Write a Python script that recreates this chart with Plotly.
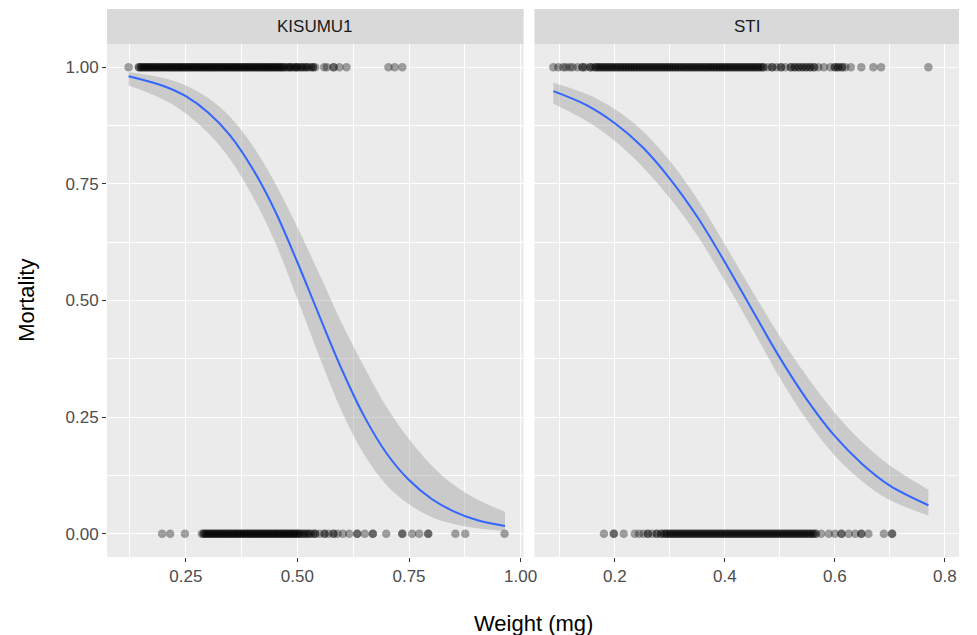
import numpy as np
import plotly.graph_objects as go

# ---- Raw observations: weight (mg) of each mosquito, split by strain and outcome ----
# Isolated weights with the number of mosquitoes recorded at each one
kis_dead_w = [0.122, 0.460, 0.465, 0.470, 0.475, 0.480, 0.485, 0.490, 0.495, 0.500, 0.505,
              0.510, 0.515, 0.520, 0.525, 0.530, 0.535, 0.540,
              0.560, 0.566, 0.581, 0.594, 0.610, 0.704, 0.718, 0.735]
kis_dead_n = [1, 2, 2, 2, 1, 2, 2, 1, 2, 2, 1,
              2, 1, 2, 1, 1, 2, 1,
              1, 1, 2, 1, 1, 1, 1, 1]
kis_alive_w = [0.197, 0.215, 0.248, 0.286, 0.505, 0.510, 0.515, 0.520, 0.525, 0.530, 0.535,
               0.540, 0.550, 0.561, 0.570, 0.581, 0.590, 0.602, 0.616, 0.634, 0.651, 0.669,
               0.699, 0.735, 0.757, 0.773, 0.793, 0.854, 0.876, 0.964]
kis_alive_n = [1, 1, 1, 1, 2, 1, 2, 1, 2, 1, 1,
               2, 1, 2, 1, 2, 1, 1, 1, 2, 1, 2,
               1, 2, 1, 1, 2, 1, 1, 1]
sti_dead_w = [0.088, 0.097, 0.106, 0.111, 0.118, 0.123, 0.132, 0.141, 0.146, 0.155, 0.160,
              0.165, 0.470, 0.478, 0.486, 0.494, 0.502, 0.510, 0.520, 0.527, 0.534, 0.541,
              0.548, 0.555, 0.562, 0.570, 0.580, 0.592, 0.600, 0.606, 0.613, 0.619,
              0.629, 0.648, 0.670, 0.684, 0.770]
sti_dead_n = [1, 1, 1, 1, 1, 1, 1, 2, 1, 2, 1,
              2, 2, 1, 2, 1, 2, 1, 2, 2, 2, 2,
              2, 2, 2, 1, 1, 1, 2, 2, 2, 1,
              1, 1, 1, 1, 1]
sti_alive_w = [0.180, 0.198, 0.216, 0.236, 0.244, 0.252, 0.260, 0.268, 0.276, 0.284, 0.290,
               0.575, 0.589, 0.600, 0.612, 0.625, 0.637, 0.648, 0.661, 0.689, 0.704]
sti_alive_n = [1, 2, 1, 1, 1, 1, 2, 1, 2, 2, 2,
               1, 1, 1, 2, 1, 1, 2, 1, 1, 2]

# Crowded weight bands: every weight listed here was recorded for BAND_COUNT mosquitoes
BAND_COUNT = 2
kis_dead_band = [0.145, 0.150, 0.155, 0.160, 0.165, 0.170, 0.175, 0.180, 0.185, 0.190, 0.195,
                 0.200, 0.205, 0.210, 0.215, 0.220, 0.225, 0.230, 0.235, 0.240, 0.245, 0.250,
                 0.255, 0.260, 0.265, 0.270, 0.275, 0.280, 0.285, 0.290, 0.295, 0.300, 0.305,
                 0.310, 0.315, 0.320, 0.325, 0.330, 0.335, 0.340, 0.345, 0.350, 0.355, 0.360,
                 0.365, 0.370, 0.375, 0.380, 0.385, 0.390, 0.395, 0.400, 0.405, 0.410, 0.415,
                 0.420, 0.425, 0.430, 0.435, 0.440, 0.445, 0.450, 0.455]
kis_alive_band = [0.290, 0.295, 0.300, 0.305, 0.310, 0.315, 0.320, 0.325, 0.330, 0.335, 0.340,
                  0.345, 0.350, 0.355, 0.360, 0.365, 0.370, 0.375, 0.380, 0.385, 0.390, 0.395,
                  0.400, 0.405, 0.410, 0.415, 0.420, 0.425, 0.430, 0.435, 0.440, 0.445, 0.450,
                  0.455, 0.460, 0.465, 0.470, 0.475, 0.480, 0.485, 0.490, 0.495, 0.500]
sti_dead_band = [0.170, 0.175, 0.180, 0.185, 0.190, 0.195, 0.200, 0.205, 0.210, 0.215, 0.220,
                 0.225, 0.230, 0.235, 0.240, 0.245, 0.250, 0.255, 0.260, 0.265, 0.270, 0.275,
                 0.280, 0.285, 0.290, 0.295, 0.300, 0.305, 0.310, 0.315, 0.320, 0.325, 0.330,
                 0.335, 0.340, 0.345, 0.350, 0.355, 0.360, 0.365, 0.370, 0.375, 0.380, 0.385,
                 0.390, 0.395, 0.400, 0.405, 0.410, 0.415, 0.420, 0.425, 0.430, 0.435, 0.440,
                 0.445, 0.450, 0.455, 0.460, 0.465]
sti_alive_band = [0.295, 0.300, 0.305, 0.310, 0.315, 0.320, 0.325, 0.330, 0.335, 0.340, 0.345,
                  0.350, 0.355, 0.360, 0.365, 0.370, 0.375, 0.380, 0.385, 0.390, 0.395, 0.400,
                  0.405, 0.410, 0.415, 0.420, 0.425, 0.430, 0.435, 0.440, 0.445, 0.450, 0.455,
                  0.460, 0.465, 0.470, 0.475, 0.480, 0.485, 0.490, 0.495, 0.500, 0.505, 0.510,
                  0.515, 0.520, 0.525, 0.530, 0.535, 0.540, 0.545, 0.550, 0.555, 0.560, 0.565]

# ---- Fitted logistic curve with 95% band (weight, fit, lower, upper) ----
kis_fit_x = [0.122, 0.20, 0.25, 0.30, 0.35, 0.40, 0.45, 0.50, 0.55, 0.60, 0.65, 0.70, 0.75,
             0.80, 0.85, 0.90, 0.965]
kis_fit_y = [0.981, 0.960, 0.938, 0.903, 0.853, 0.782, 0.692, 0.582, 0.465, 0.351, 0.251,
             0.172, 0.115, 0.075, 0.048, 0.030, 0.0165]
kis_fit_lo = [0.961, 0.931, 0.901, 0.859, 0.802, 0.723, 0.625, 0.503, 0.378, 0.261, 0.169,
              0.104, 0.063, 0.036, 0.021, 0.012, 0.0057]
kis_fit_hi = [0.990, 0.977, 0.961, 0.934, 0.893, 0.832, 0.752, 0.657, 0.555, 0.450, 0.357,
              0.271, 0.203, 0.147, 0.105, 0.075, 0.047]

sti_fit_x = [0.088, 0.15, 0.20, 0.25, 0.30, 0.35, 0.40, 0.45, 0.50, 0.55, 0.60, 0.65, 0.70, 0.77]
sti_fit_y = [0.949, 0.918, 0.880, 0.829, 0.761, 0.679, 0.582, 0.479, 0.377, 0.286, 0.209,
             0.149, 0.103, 0.061]
sti_fit_lo = [0.922, 0.884, 0.842, 0.787, 0.719, 0.639, 0.542, 0.439, 0.334, 0.242, 0.167,
              0.112, 0.072, 0.039]
sti_fit_hi = [0.967, 0.942, 0.910, 0.864, 0.799, 0.717, 0.620, 0.520, 0.423, 0.336, 0.259,
              0.196, 0.146, 0.094]

strain_names = ["KISUMU1", "STI"]
y_ticks = [0.0, 0.25, 0.5, 0.75, 1.0]
y_tick_text = ["0.00", "0.25", "0.50", "0.75", "1.00"]
kis_x_ticks = [0.25, 0.5, 0.75, 1.0]
kis_x_text = ["0.25", "0.50", "0.75", "1.00"]
sti_x_ticks = [0.2, 0.4, 0.6, 0.8]
sti_x_text = ["0.2", "0.4", "0.6", "0.8"]

FONT = "Liberation Sans, Arial, sans-serif"
PANEL_BG = "#EBEBEB"
STRIP_BG = "#D9D9D9"

fig = go.Figure()


def weights(sparse_w, sparse_n, band):
    return np.concatenate([np.repeat(sparse_w, sparse_n), np.repeat(band, BAND_COUNT)])


def add_panel(xa, ya, dead, alive, fx, fy, flo, fhi):
    xs = np.concatenate([dead, alive])
    ys = np.concatenate([np.ones(len(dead)), np.zeros(len(alive))])
    fig.add_trace(go.Scatter(
        x=xs, y=ys, mode="markers", xaxis=xa, yaxis=ya, hoverinfo="skip",
        marker=dict(color="black", opacity=0.35, size=8.5, line=dict(width=0)),
        showlegend=False))
    fig.add_trace(go.Scatter(
        x=fx, y=flo, mode="lines", xaxis=xa, yaxis=ya, line=dict(width=0, shape="spline"),
        hoverinfo="skip", showlegend=False))
    fig.add_trace(go.Scatter(
        x=fx, y=fhi, mode="lines", xaxis=xa, yaxis=ya, line=dict(width=0, shape="spline"),
        fill="tonexty", fillcolor="rgba(153,153,153,0.4)", hoverinfo="skip", showlegend=False))
    fig.add_trace(go.Scatter(
        x=fx, y=fy, mode="lines", xaxis=xa, yaxis=ya,
        line=dict(color="#3366FF", width=2, shape="spline"), showlegend=False))


add_panel("x", "y",
          weights(kis_dead_w, kis_dead_n, kis_dead_band),
          weights(kis_alive_w, kis_alive_n, kis_alive_band),
          kis_fit_x, kis_fit_y, kis_fit_lo, kis_fit_hi)
add_panel("x2", "y2",
          weights(sti_dead_w, sti_dead_n, sti_dead_band),
          weights(sti_alive_w, sti_alive_n, sti_alive_band),
          sti_fit_x, sti_fit_y, sti_fit_lo, sti_fit_hi)

W, H = 977, 635
ML, MR, MT, MB = 107, 5, 44, 78
plot_w = W - ML - MR
plot_h = H - MT - MB
gap = 11
left_w = 423
d1 = [0, left_w / plot_w]
d2 = [(left_w + gap) / plot_w, 1]

tick_common = dict(ticks="outside", ticklen=4, tickwidth=1, tickcolor="#333333",
                   tickfont=dict(family=FONT, size=17, color="#4D4D4D"),
                   showgrid=True, gridcolor="white", gridwidth=1.1,
                   zeroline=False, showline=False)
minor_x1 = dict(tickvals=[0.125, 0.375, 0.625, 0.875], showgrid=True, gridcolor="white",
                gridwidth=0.5, ticks="")
minor_x2 = dict(tickvals=[0.1, 0.3, 0.5, 0.7], showgrid=True, gridcolor="white",
                gridwidth=0.5, ticks="")
minor_y = dict(tickvals=[0.125, 0.375, 0.625, 0.875], showgrid=True, gridcolor="white",
               gridwidth=0.5, ticks="")

fig.update_layout(
    width=W, height=H,
    margin=dict(l=ML, r=MR, t=MT, b=MB, pad=0),
    paper_bgcolor="white", plot_bgcolor=PANEL_BG,
    font=dict(family=FONT),
    xaxis=dict(domain=d1, range=[0.0735, 1.0068], tickvals=kis_x_ticks, ticktext=kis_x_text,
               minor=minor_x1, anchor="y", **tick_common),
    xaxis2=dict(domain=d2, range=[0.0537, 0.8257], tickvals=sti_x_ticks, ticktext=sti_x_text,
                minor=minor_x2, anchor="y2", **tick_common),
    yaxis=dict(domain=[0, 1], range=[-0.05, 1.05], tickvals=y_ticks, ticktext=y_tick_text,
               minor=minor_y, anchor="x", **tick_common),
    yaxis2=dict(domain=[0, 1], range=[-0.05, 1.05], tickvals=y_ticks, ticktext=y_tick_text,
                minor=minor_y, anchor="x2", matches="y",
                showticklabels=False, ticks="", showgrid=True, gridcolor="white",
                gridwidth=1.1, zeroline=False, showline=False),
)

# Facet strips across the top of each panel
strip_h = 35 / plot_h
for xref, name in [("x domain", strain_names[0]), ("x2 domain", strain_names[1])]:
    fig.add_shape(type="rect", xref=xref, yref="paper", x0=0, x1=1, y0=1, y1=1 + strip_h,
                  fillcolor=STRIP_BG, line=dict(width=0), layer="below")
    fig.add_annotation(xref=xref, yref="paper", x=0.5, y=1 + strip_h / 2, text=name,
                       showarrow=False, xanchor="center", yanchor="middle",
                       font=dict(family=FONT, size=17, color="#1A1A1A"))

# Axis titles
fig.add_annotation(xref="paper", yref="paper", x=0.5, y=-(623 - (H - MB)) / plot_h,
                   text="Weight (mg)", showarrow=False, xanchor="center", yanchor="middle",
                   font=dict(family=FONT, size=22, color="black"))
fig.add_annotation(xref="paper", yref="paper", x=-(ML - 25) / plot_w, y=0.5,
                   text="Mortality", textangle=-90, showarrow=False,
                   xanchor="center", yanchor="middle",
                   font=dict(family=FONT, size=22, color="black"))

fig.write_html("out.html")
